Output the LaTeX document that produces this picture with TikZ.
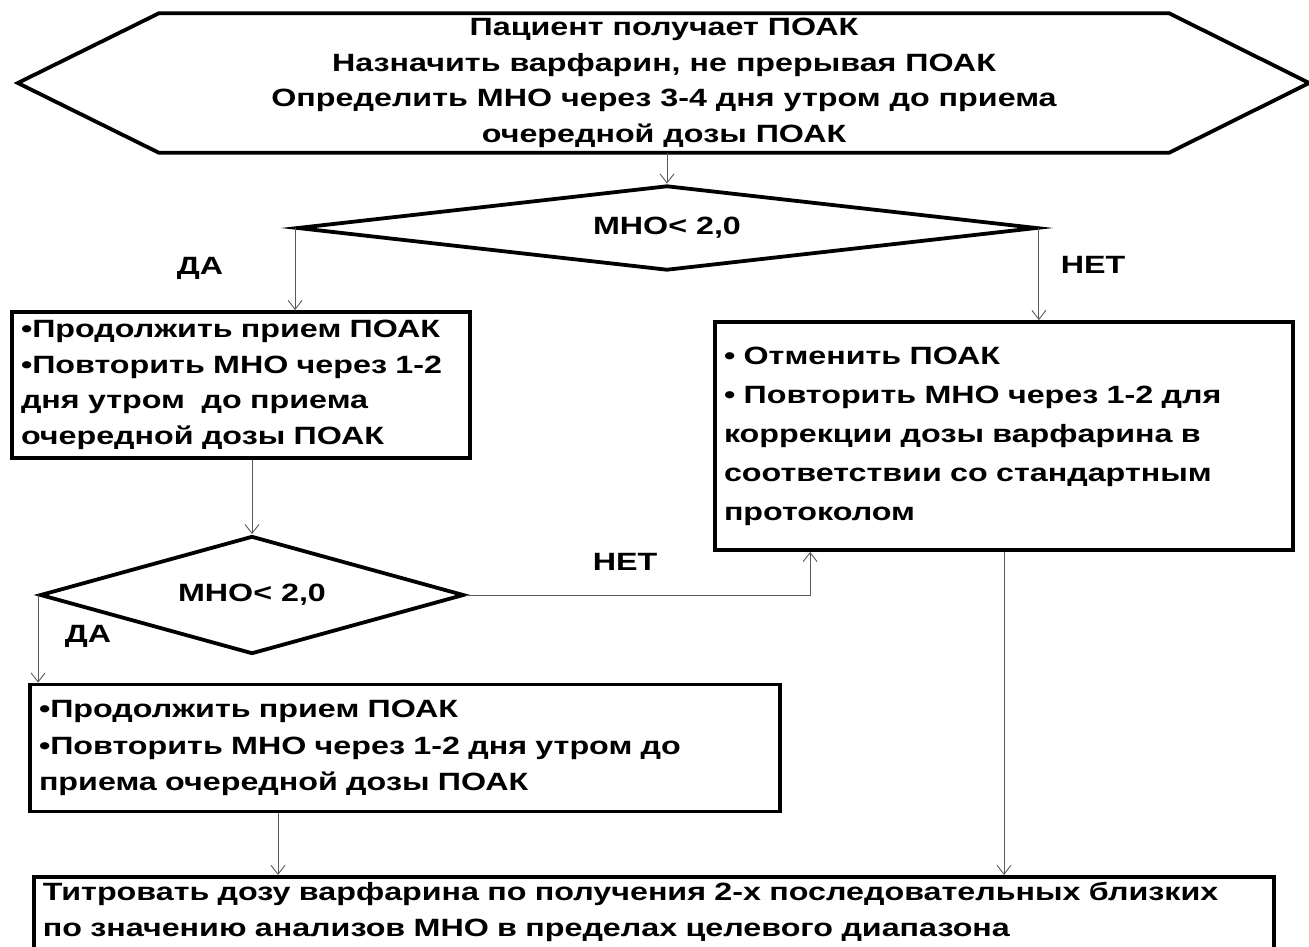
\documentclass[tikz,border=0pt]{standalone}
\usepackage{fontspec}
\setmainfont[FakeStretch=1.29]{Liberation Sans}
\usetikzlibrary{arrows.meta, positioning, shapes.geometric}

\begin{document}
\begin{tikzpicture}[
  x=1pt, y=-1pt,
  box/.style={draw, line width=3.8pt, inner xsep=8pt, inner ysep=0pt, align=left,
              font=\bfseries\fontsize{25}{35.5}\selectfont},
  cond/.style={draw, line width=3.8pt, diamond, inner sep=0pt,
               font=\bfseries\fontsize{25}{34}\selectfont},
  lbl/.style={font=\bfseries\fontsize{25}{34}\selectfont},
  arr/.style={-{Straight Barb[length=9pt, width=14pt]}, draw=black!65, line width=0.9pt}
]
  \clip (0,0) rectangle (1309,946);

  % Start
  \node[align=center, minimum width=1010, minimum height=139,
        font=\bfseries\fontsize{25}{35.5}\selectfont]
    (start) at (664,83) {Пациент получает ПОАК\\Назначить варфарин, не прерывая ПОАК\\
    Определить МНО через 3-4 дня утром до приема\\очередной дозы ПОАК};
  \draw[line width=3.8pt, line join=miter]
    (start.north west) -- (start.north east) -- ([xshift=140pt]start.east)
    -- (start.south east) -- (start.south west) -- ([xshift=-141pt]start.west) -- cycle;

  % First check
  \node[cond, aspect=8.7, minimum width=740, minimum height=85] (check1) at (667,228) {МНО< 2,0};
  \node[lbl] (yes1) at (200,268) {ДА};
  \node[lbl] (no1) at (1093,265) {НЕТ};

  % Branches
  \node[box, minimum width=458, minimum height=146, text width=440] (keep1) at (241,385)
    {•Продолжить прием ПОАК\\•Повторить МНО через 1-2\\дня утром~ до приема\\очередной дозы ПОАК};
  \node[box, minimum width=578, minimum height=228, text width=560,
        font=\bfseries\fontsize{25}{39}\selectfont] (stop) at (1004,436)
    {• Отменить ПОАК\\• Повторить МНО через 1-2 для\\коррекции дозы варфарина в\\
    соответствии со стандартным\\протоколом};

  % Second check
  \node[cond, aspect=3.6, minimum width=424, minimum height=118] (check2) at (252,595)
    {МНО< 2,0\hspace{36pt}};
  \node[lbl] (yes2) at (88,636) {ДА};
  \node[lbl] (no2) at (625,562) {НЕТ};

  \node[box, minimum width=750, minimum height=127, text width=732,
        font=\bfseries\fontsize{25}{36.5}\selectfont] (keep2) at (405,748)
    {•Продолжить прием ПОАК\\•Повторить МНО через 1-2 дня утром до\\приема очередной дозы ПОАК};

  % Titration
  \node[box, anchor=north west, minimum width=1240, inner ysep=5.5pt,
        text width=1222, font=\bfseries\fontsize{25}{36}\selectfont] (titr) at (32,875)
    {Титровать дозу варфарина по получения 2-х последовательных близких\\
    по значению анализов МНО в пределах целевого диапазона\\ \strut};

  % Arrows
  \draw[arr] (start.south -| check1.north) -- (check1.north);
  \draw[arr] (check1.west) -- (check1.west |- keep1.north);
  \draw[arr] (check1.east) -- (check1.east |- stop.north);
  \draw[arr] (keep1.south -| check2.north) -- (check2.north);
  \draw[arr] (check2.east) -| ([xshift=97pt]stop.south west);
  \draw[arr] (check2.west) -- (check2.west |- keep2.north);
  \draw[arr] ([xshift=-127pt]keep2.south) -- ([xshift=-127pt]keep2.south |- titr.north);
  \draw[arr] (stop.south) -- (stop.south |- titr.north);
\end{tikzpicture}
\end{document}
